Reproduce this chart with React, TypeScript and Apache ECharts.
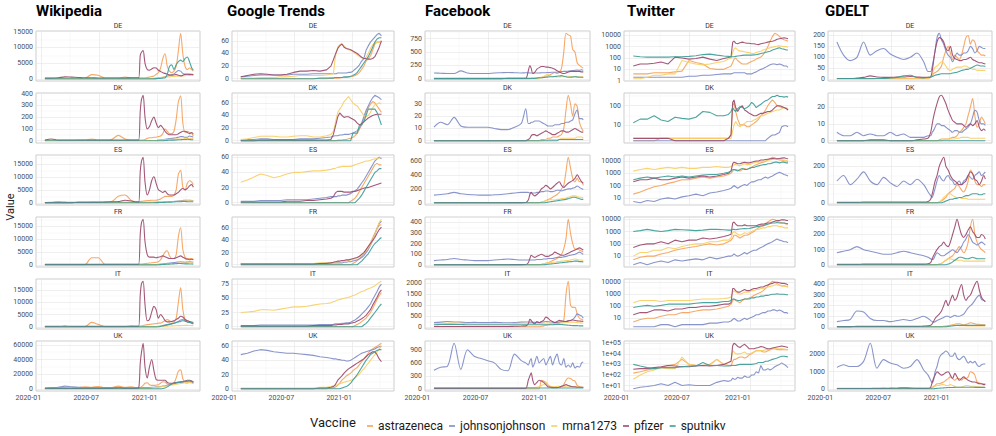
import React, { useEffect, useRef } from "react";
import * as echarts from "echarts";

// ---------- data ----------
const DATES = [
  "2020-01-13","2020-02-03","2020-02-24","2020-03-16","2020-04-06","2020-04-27","2020-05-18","2020-06-08","2020-06-29","2020-07-20",
  "2020-08-10","2020-08-31","2020-09-21","2020-10-12","2020-10-26","2020-11-03","2020-11-08","2020-11-12","2020-11-17","2020-11-23",
  "2020-11-30","2020-12-07","2020-12-14","2020-12-21","2020-12-28","2021-01-04","2021-01-11","2021-01-18","2021-01-25","2021-02-01",
  "2021-02-08","2021-02-15","2021-02-22","2021-03-01","2021-03-08","2021-03-15","2021-03-22","2021-03-29","2021-04-05","2021-04-12",
  "2021-04-19","2021-04-24",
];
const VACCINES = ["astrazeneca", "johnsonjohnson", "mrna1273", "pfizer", "sputnikv"];
const COLORS = ["#F5A25C", "#7F8CC6", "#F8CF66", "#9B4A6E", "#3E9D97"];
const COUNTRIES = ["DE", "DK", "ES", "FR", "IT", "UK"];
const SOURCES = ["Wikipedia", "Google Trends", "Facebook", "Twitter", "GDELT"];
const X_TICK_DATES = ["2020-01-01", "2020-07-01", "2021-01-01"];
const X_TICK_LABELS = ["2020-01", "2020-07", "2021-01"];
const X_MINOR_DATES = ["2020-04-01", "2020-10-01", "2021-04-01"];

// each panel: [astrazeneca, johnsonjohnson, mrna1273, pfizer, sputnikv]
const WIKI_DE = [
  [200,200,200,200,200,200,250,1400,1200,300, 300,300,600,300,300,400,400,400,400,400, 500,600,800,1000,1500,2000,3500,6500,8000,4000, 2500,2000,2500,4000,9000,14500,8000,4000,3000,3500, 3000,2500],
  [100,100,100,100,100,100,100,100,100,100, 100,100,100,100,100,100,100,100,100,100, 100,100,100,100,100,200,300,500,700,900, 1200,1400,1600,2200,2700,2500,1800,1500,1400,1600, 1400,1300],
  [150,150,150,150,150,150,150,150,150,150, 150,150,150,150,150,150,150,150,150,150, 150,150,200,300,400,500,500,600,600,700, 700,800,800,900,900,1000,1000,1100,1200,1200, 1200,1200],
  [300,300,400,700,600,500,400,400,350,350, 350,350,350,400,400,400,7500,8500,9000,5000, 3000,2800,3200,3600,3500,2800,2400,2000,1800,1500, 1300,1200,1300,1400,1200,1000,1200,1500,1600,1400, 1500,1400],
  [100,100,100,100,100,100,100,100,100,100, 100,100,100,100,100,100,100,100,100,100, 100,100,100,100,150,200,250,300,350,1500, 4000,4500,3000,4500,5500,6000,5500,6500,7000,5500, 3500,2800],
];
const WIKI_DK = [
  [3,3,3,3,3,5,5,15,5,5, 10,45,15,5,5,5,5,5,5,10, 20,25,25,30,30,35,40,60,100,80, 60,60,80,180,330,380,150,70,80,70, 60,40],
  [2,2,2,2,2,2,2,2,2,2, 2,2,2,2,2,2,2,2,2,2, 2,2,2,2,2,5,8,10,12,15, 18,20,22,25,30,35,35,30,30,40, 35,30],
  [2,2,2,2,2,2,2,2,2,2, 2,2,2,2,2,2,2,2,2,2, 2,2,2,2,2,5,6,8,10,10, 12,12,12,15,15,15,15,18,18,20, 20,15],
  [5,15,5,5,5,5,5,5,5,5, 5,5,5,5,5,5,250,350,385,200, 100,120,170,200,150,110,130,110,80,60, 50,50,50,50,60,70,80,80,70,60, 70,55],
  [0,0,0,0,0,0,0,0,0,0, 0,0,0,0,0,0,0,0,0,0, 0,0,0,0,0,0,0,0,2,3, 4,5,5,6,8,8,10,10,12,10, 8,8],
];
const WIKI_ES = [
  [100,100,100,100,100,200,200,300,300,300, 500,2500,3000,800,500,500,500,600,700,800, 900,900,1000,1000,1000,1200,1500,2000,2500,2500, 2500,2500,3000,5000,11000,12500,6000,5000,7500,8500, 8000,7000],
  [100,200,400,300,200,200,200,200,200,200, 200,200,200,200,200,200,200,200,200,200, 200,200,250,250,250,300,300,350,400,400, 450,500,550,600,700,800,900,1000,1000,1000, 900,900],
  [100,100,100,100,100,100,100,100,100,100, 100,100,100,100,100,100,100,100,100,100, 100,100,150,200,250,300,300,350,400,400, 450,500,500,550,600,650,700,700,750,800, 800,800],
  [100,100,100,100,100,200,200,200,200,300, 400,500,1000,700,300,300,12000,16000,17500,8000, 3000,5000,8500,10000,7500,5000,4500,4000,4500,3500, 3000,3000,3000,3500,4000,5000,5500,5000,5500,6500, 7000,6000],
  [50,50,50,50,50,50,50,50,50,50, 50,50,50,50,50,50,50,50,50,50, 50,50,50,50,100,100,150,150,200,250, 300,300,350,400,400,450,500,500,450,450, 400,400],
];
const WIKI_FR = [
  [100,100,100,100,100,100,100,2800,2800,200, 200,200,200,200,200,300,300,300,400,500, 600,700,800,900,1000,1200,2000,3500,5000,5500, 3500,2500,2500,4000,11000,14500,6000,3000,2500,2500, 2500,2000],
  [100,100,100,100,100,100,100,100,100,100, 100,100,100,100,100,100,100,100,100,100, 100,100,100,100,100,200,300,400,500,600, 700,800,900,1000,1100,1200,1100,1000,1100,1200, 1100,1000],
  [80,80,80,80,80,80,80,80,80,80, 80,80,80,80,80,80,80,80,80,80, 80,80,80,80,80,150,200,250,300,350, 400,450,500,550,600,650,700,700,750,800, 750,700],
  [200,200,200,200,200,200,200,200,200,200, 200,200,200,200,200,200,12000,16500,17800,9000, 4000,3000,3000,3000,2800,3000,3200,3500,3200,2800, 2500,2500,2500,2800,3200,3500,3000,2500,2200,2000, 2200,2000],
  [50,50,50,50,50,50,50,50,50,50, 50,50,50,50,50,50,50,50,50,50, 50,50,50,50,50,50,100,150,200,250, 300,350,400,450,500,500,450,400,400,350, 350,300],
];
const WIKI_IT = [
  [100,100,100,100,100,100,100,1800,1000,100, 100,100,100,400,300,300,300,400,500,700, 900,1000,1100,1200,1300,1500,1500,2000,2500,3000, 2500,2000,2000,3500,10000,16000,7000,3000,2500,2000, 1500,1300],
  [100,100,100,100,100,100,100,100,100,100, 100,100,100,100,100,100,100,100,100,100, 100,100,100,100,100,200,300,500,700,900, 1100,1300,1500,1800,2200,2800,3000,2500,2000,1800, 1500,1200],
  [100,100,100,100,100,100,100,100,100,100, 100,100,100,100,100,100,100,100,100,100, 100,100,100,100,100,150,200,250,300,300, 350,400,400,450,500,500,550,600,600,550, 500,500],
  [200,200,200,300,200,200,200,200,200,200, 200,200,200,200,200,200,13000,17500,18500,9000, 2500,3000,6000,8300,7000,3500,5000,4000,2500,2000, 2000,2200,2500,3000,3500,4300,4000,3000,2500,2200, 2000,1800],
  [50,50,50,50,50,50,50,50,50,50, 50,50,50,50,50,50,50,50,50,50, 50,50,50,50,50,50,200,400,600,800, 1000,1200,1500,1800,2000,2200,2500,2300,2000,1800, 1600,1500],
];
const WIKI_UK = [
  [1000,1500,2000,2000,1500,2000,3000,2500,3500,2000, 2000,4000,2500,3000,2000,2000,2000,3000,5000,8000, 8500,6000,5000,5000,5500,6000,8000,10000,9500,7000, 6000,6000,8000,15000,24000,26000,14000,9000,8000,9000, 8500,7500],
  [1500,2000,2500,4000,3000,2500,2000,2000,2000,2000, 2000,2000,2000,2000,2000,2000,2000,2000,2000,2000, 2000,2000,2500,2500,3000,3000,3500,4000,4500,5000, 6000,7000,7500,8000,8500,9000,9500,10000,10500,11000, 10000,9000],
  [1000,1000,1000,1000,1000,1000,1000,1000,1000,1000, 1000,1000,1000,1000,1000,1000,1000,1000,1000,1000, 1000,1000,1500,2000,2500,3000,3000,3500,4000,4500, 5000,5500,6000,6500,7000,7500,8000,8500,9000,9000, 8500,8000],
  [1000,1000,1000,1000,1000,1000,1000,1000,1000,1000, 1000,1500,1000,1000,1000,1500,35000,50000,62000,30000, 15000,30000,40000,25000,13000,12000,12000,12000,12000,9000, 8000,8000,8500,9000,9500,10000,10000,11000,12000,12000, 11000,9000],
  [500,500,500,500,500,500,500,500,500,500, 500,500,500,500,500,500,500,500,500,500, 500,500,500,500,500,500,500,800,1500,3000, 5000,7000,8000,8500,9000,9500,10000,10500,11000,11000, 10500,10000],
];

const GT_DE = [
  [0,0,0,0,0,0,0,0,0,0, 0,0,0,0,1,1,1,1,1,1, 2,2,2,3,3,4,5,7,10,15, 20,28,32,36,45,55,58,58,60],
  [3,4,5,6,6,6,6,6,7,7, 7,8,8,8,8,8,8,8,9,9, 9,9,9,10,10,12,15,18,22,28, 32,45,52,58,62,66,70,72,68],
  [1,1,1,2,2,2,3,3,4,5, 5,5,5,6,7,8,30,42,50,54, 55,52,48,46,45,43,40,38,35,33, 32,34,40,48,54,57,58,58,58],
  [3,5,7,8,7,6,6,7,10,12, 12,13,12,14,20,30,37,42,48,52, 55,50,48,47,46,44,42,40,37,34, 32,32,31,31,32,35,42,50,60],
  [0,0,0,0,0,0,0,0,0,0, 0,0,1,1,1,1,2,2,2,2, 2,3,3,3,4,5,7,10,15,20, 25,30,35,42,50,58,63,65,65],
];
const GT_DK = [
  [0,0,0,0,0,0,0,0,0,0, 0,0,0,0,0,0,0,0,1,1, 1,2,2,3,4,5,8,12,18,25, 35,45,52,58,62,60,55,50,45],
  [1,2,2,3,3,2,2,2,2,3, 3,3,4,5,6,7,8,8,8,9, 9,10,10,10,11,12,14,16,20,28, 38,48,55,62,68,72,70,68,65],
  [2,3,5,7,7,7,6,6,7,8, 8,6,6,8,10,15,25,35,45,50, 55,62,66,70,65,60,57,55,50,45, 40,38,40,45,52,57,58,60,58],
  [0,0,0,1,1,1,1,1,1,1, 1,1,1,1,2,10,20,28,38,44, 40,37,38,38,36,34,32,28,25,27, 30,33,36,38,40,41,42,42,42],
  [0,0,0,0,0,0,0,0,0,0, 0,0,0,0,0,0,0,0,0,0, 0,0,0,0,0,12,12,12,25,25, 30,40,50,50,50,50,45,35,25],
];
const GT_ES = [
  [0,0,0,0,0,0,0,0,0,0, 0,0,0,0,0,0,0,0,0,0, 0,0,0,0,2,4,6,10,15,20, 25,30,35,40,45,50,52,50,50],
  [2,2,2,3,3,3,3,4,4,4, 4,5,6,7,8,8,8,8,9,9, 10,10,10,11,12,14,16,18,22,26, 30,35,40,45,50,55,58,60,58],
  [27,30,34,38,36,33,35,38,40,40, 41,42,42,43,44,45,45,46,47,47, 48,48,48,48,48,49,50,51,52,53, 54,55,55,56,57,58,58,59,60],
  [1,1,1,1,1,1,1,2,2,2, 3,3,4,5,6,8,12,14,15,15, 15,14,14,14,14,15,15,16,17,18, 19,20,20,21,22,23,24,25,26],
  [0,0,0,0,0,0,0,0,0,0, 0,0,0,0,0,0,0,0,0,0, 0,0,0,0,0,0,0,3,6,10, 15,20,25,30,35,40,42,45,45],
];
const GT_FR = [
  [0,0,0,0,0,0,0,0,0,0, 0,0,0,0,0,0,0,0,0,0, 0,0,0,0,0,2,4,7,10,14, 18,24,30,36,44,52,60,65,66],
  [2,2,2,2,2,2,2,2,2,2, 2,2,2,3,3,3,3,3,3,3, 3,4,4,5,5,6,7,8,10,12, 15,20,25,32,40,50,60,68,72],
  [2,2,2,2,2,2,2,2,2,2, 2,2,3,3,3,4,4,4,5,5, 5,6,6,7,8,9,10,12,14,17, 20,24,28,33,40,50,60,70,75],
  [1,1,1,1,1,1,1,1,1,1, 1,1,2,2,3,4,5,5,6,6, 7,7,8,8,9,10,11,12,14,17, 20,25,30,35,40,45,52,58,62],
  [0,0,0,0,0,0,0,0,0,0, 0,0,0,0,0,0,0,0,0,0, 0,0,0,0,0,0,0,0,3,6, 10,14,18,24,30,35,38,42,45],
];
const GT_IT = [
  [0,0,0,0,0,0,0,0,0,0, 0,0,0,0,0,0,0,0,0,0, 0,0,0,0,0,0,2,4,6,9, 12,15,20,25,32,40,48,55,60],
  [2,2,2,3,3,3,3,3,3,3, 3,3,4,4,4,4,5,5,5,5, 6,6,7,7,8,10,12,15,18,22, 26,30,35,40,48,55,62,70,75],
  [25,26,27,30,30,29,31,33,35,35, 36,38,40,41,42,44,45,46,47,48, 49,50,51,52,53,55,56,58,60,62, 63,65,67,68,70,72,75,78,80],
  [1,1,1,1,1,1,1,1,1,1, 1,2,2,2,2,3,3,3,4,4, 4,5,5,5,6,7,8,10,12,14, 17,20,25,30,38,45,52,60,65],
  [0,0,0,0,0,0,0,0,0,0, 0,0,0,0,0,0,0,0,0,0, 0,0,0,0,0,0,0,0,0,0, 3,6,10,15,20,25,30,36,40],
];
const GT_UK = [
  [0,0,0,0,0,0,0,0,0,0, 0,0,0,0,1,1,2,3,5,8, 12,15,18,20,22,25,28,30,34,38, 42,46,50,54,56,58,60,62,64],
  [48,50,53,55,54,52,51,50,50,49, 48,47,45,44,43,42,42,42,41,41, 40,40,39,39,40,42,44,46,48,50, 51,52,53,54,55,56,58,59,60],
  [1,1,1,1,1,1,1,1,1,1, 1,1,2,2,3,4,5,5,6,7, 8,9,10,11,12,13,15,18,21,25, 28,32,36,40,44,48,52,56,60],
  [0,0,0,0,0,0,0,0,0,0, 0,0,1,1,2,3,5,8,12,15, 18,22,25,28,30,32,34,36,38,40, 42,45,48,50,52,52,48,42,38],
  [0,0,0,0,0,0,0,0,0,0, 0,0,0,0,0,0,0,0,0,0, 1,2,3,5,8,12,16,20,25,30, 35,40,44,48,50,52,54,55,55],
];

const FB_DE = [
  [3,3,3,3,3,3,3,3,3,3, 5,5,5,5,5,5,5,10,10,15, 20,25,30,40,50,60,80,100,120,100, 120,200,500,850,820,800,550,500,300,250, 220,200],
  [110,105,100,100,150,110,100,100,100,110, 115,120,115,110,115,115,110,110,110,110, 110,110,115,115,115,120,120,125,125,125, 130,135,140,140,145,150,155,160,165,160, 170,160],
  [3,3,3,3,3,3,3,3,3,3, 3,3,3,3,3,3,3,3,3,3, 5,10,20,40,70,90,60,40,40,35, 35,40,40,50,50,45,40,40,40,40, 40,40],
  [5,5,5,5,5,5,5,5,5,5, 5,10,10,10,10,150,250,200,100,120, 180,210,230,230,220,220,210,200,180,150, 130,110,100,110,130,140,140,140,140,140, 130,130],
  [10,10,10,10,10,10,10,10,10,10, 10,10,10,10,10,10,10,10,10,10, 15,20,20,25,30,35,40,40,45,50, 55,60,50,40,30,30,35,40,35,30, 30,25],
];
const FB_DK = [
  [0,0,0,0,0,0,0,0,0,0, 0,0,0,0,0,0,0,0,0,0, 0,0,1,1,1,2,2,3,3,3, 4,5,10,25,37,30,20,30,28,15, 10,8],
  [11,15,13,19,12,11,11,11,11,10, 9,9,11,14,26,14,14,15,15,16, 16,16,15,14,13,12,12,12,13,13, 13,14,14,15,15,16,17,22,25,18, 18,17],
  [0,0,0,0,0,0,0,0,0,0, 0,0,0,0,0,0,0,0,0,0, 0,0,0,0,1,1,1,1,1,1, 1,2,2,2,2,2,2,2,3,3, 3,2],
  [0,0,0,0,0,0,0,0,0,0, 0,0,0,0,0,1,2,4,5,5, 4,5,6,7,8,7,6,5,5,6, 7,8,8,7,7,8,9,10,9,8, 7,7],
  [0,0,0,0,0,0,0,0,0,0, 0,0,0,0,0,0,0,0,0,0, 0,0,0,0,0,0,0,0,0,0, 1,1,1,1,1,1,1,1,1,1, 1,1],
];
const FB_ES = [
  [2,2,2,2,2,2,2,2,2,2, 2,2,2,2,2,2,2,2,2,2, 2,2,10,20,30,50,60,80,100,120, 150,200,250,450,650,500,350,300,350,300, 300,250],
  [110,120,130,150,130,120,115,110,110,115, 120,130,140,150,150,150,140,140,140,140, 150,150,160,160,170,170,160,160,170,180, 180,170,180,190,200,200,210,220,240,220, 200,190],
  [2,2,2,2,2,2,2,2,2,2, 2,2,2,2,2,2,2,2,2,2, 2,2,10,20,30,40,50,40,40,50, 50,60,60,70,80,90,100,100,90,80, 80,70],
  [2,2,2,2,2,2,2,2,2,2, 2,3,3,3,5,40,120,150,120,100, 120,150,200,220,250,230,200,220,250,280, 300,250,220,250,280,300,320,350,400,350, 300,280],
  [2,2,2,2,2,2,2,2,2,2, 2,2,2,2,2,2,2,2,2,2, 2,2,2,2,5,10,15,20,25,30, 35,40,45,50,60,70,80,80,70,60, 50,50],
];
const FB_FR = [
  [1,1,1,1,1,1,1,1,1,1, 1,1,1,1,1,1,1,1,1,1, 1,1,5,10,15,20,30,40,50,60, 80,100,150,250,430,300,200,150,150,140, 130,120],
  [40,45,50,60,50,45,40,40,40,45, 50,55,50,45,45,45,45,45,45,45, 50,50,50,55,55,60,60,60,65,70, 70,70,75,80,85,90,95,100,110,120, 110,100],
  [1,1,1,1,1,1,1,1,1,1, 1,1,1,1,1,1,1,1,1,1, 1,1,5,10,15,20,20,25,25,30, 30,35,35,40,40,45,50,55,50,45, 45,40],
  [1,1,1,1,1,1,1,1,1,1, 1,1,2,2,3,20,60,90,80,70, 80,90,100,90,80,80,90,100,120,110, 100,90,90,100,110,120,130,140,150,160, 150,140],
  [1,1,1,1,1,1,1,1,1,1, 1,1,1,1,1,1,1,1,1,1, 1,1,1,1,3,5,8,10,12,15, 18,20,22,25,28,30,32,35,35,30, 30,28],
];
const FB_IT = [
  [10,10,10,10,10,10,10,10,10,10, 10,10,10,10,10,10,10,10,10,10, 10,10,30,50,80,100,120,150,180,200, 220,250,300,1500,2100,1000,900,900,600,400, 350,300],
  [200,220,250,230,220,200,210,200,200,210, 200,190,200,220,230,230,220,220,210,210, 200,200,220,230,250,240,230,220,210,210, 220,230,240,250,280,300,350,450,600,550, 500,400],
  [150,160,170,180,170,160,150,150,150,150, 150,150,160,170,170,170,160,160,150,150, 150,150,160,170,180,180,170,160,160,160, 170,180,190,200,210,220,220,210,200,190, 180,170],
  [20,20,20,20,20,20,20,20,20,20, 20,20,30,40,50,150,350,300,200,150, 250,200,250,300,450,400,300,250,200,250, 300,280,260,250,280,300,320,300,280,270, 260,250],
  [100,110,120,120,110,100,100,100,100,100, 100,100,100,100,100,100,100,100,100,100, 100,100,100,100,100,100,100,100,110,120, 120,110,100,90,80,70,60,60,60,50, 50,50],
];
const FB_UK = [
  [5,5,5,5,5,5,5,5,5,5, 5,5,5,5,5,5,5,5,5,5, 5,5,200,180,150,80,50,50,40,40, 50,60,100,200,250,240,200,180,80,50, 40,30],
  [430,500,520,1050,450,900,750,700,650,600, 450,420,800,650,600,550,650,700,500,600, 750,600,650,700,550,650,750,550,700,800, 600,550,700,500,550,500,600,480,520,500, 600,620],
  [30,30,30,30,30,30,30,30,30,30, 30,30,30,30,30,30,30,30,30,30, 40,50,80,100,150,100,60,50,50,60, 60,50,50,60,70,60,50,50,50,40, 40,40],
  [10,10,10,10,10,10,10,10,10,10, 10,10,10,10,10,200,300,370,200,100, 150,200,180,150,100,50,40,30,30,30, 40,60,80,100,80,60,50,50,40,40, 40,40],
  [20,20,20,20,20,20,20,20,20,20, 20,20,20,20,20,20,20,20,20,20, 20,20,20,20,20,20,20,20,20,20, 20,20,20,20,20,20,20,20,20,20, 20,20],
];

const TW_DE = [
  [4,4,4,5,5,5,6,7,60,40, 30,12,10,10,15,20,40,80,100,60, 40,30,30,30,40,50,60,80,100,120, 200,400,1000,3000,8000,15000,12000,8000,5000,4000, 3500,3000],
  [2,2,2,2,2,2,2,2,2.5,2.5, 3,3,3.5,4,4,4,4.5,5,5,5, 5,5,5,4,4,4,5,6,8,10, 12,15,20,25,30,30,25,30,25,20, 20,15],
  [1.5,1.5,2,3,3,4,4,60,40,30, 25,30,40,50,80,100,300,600,800,500, 400,400,350,300,300,250,250,300,350,400, 500,600,700,800,900,1000,1100,1200,1100,1000, 1000,900],
  [20,30,30,35,45,30,120,100,80,90, 120,80,60,90,110,130,2500,3000,2000,1800, 2200,2500,2200,2000,2000,1800,1800,1600,1500,1800, 2000,2200,2500,2800,3000,3500,4500,5000,5500,6000, 5500,5000],
  [150,130,120,120,120,120,130,130,140,160, 200,220,180,150,140,130,130,130,140,150, 160,170,180,180,180,180,190,200,220,250, 280,300,350,400,500,600,700,800,650,600, 500,500],
];
const TW_DK = [
  [1.5,1.5,1.5,1.5,2,2,2,2,2,2, 2,2,2,2,2,3,100,150,50,20, 10,10,10,8,8,10,12,15,20,30, 40,60,100,150,200,150,100,90,80,80, 70,60],
  [1.5,1.5,1.5,1.5,1.5,1.5,1.5,1.5,1.5,1.5, 1.5,1.5,1.5,1.5,1.5,1.5,1.5,1.5,1.5,1.5, 1.5,1.5,1.5,1.5,1.5,1.5,1.5,1.5,1.5,1.5, 1.5,1.5,2,2.5,3,3,3.5,4,8,9, 9,8],
  [2,2,2,2,2,2,2,2,2,2, 2,2,2,2,2,2,5,10,15,10, 8,10,12,15,15,15,18,20,25,30, 30,35,40,45,50,55,60,60,70,80, 80,70],
  [2,2,2,2,2,2,1.5,1.5,1.5,1.5, 1.5,1.5,1.5,1.5,2,3,150,200,80,50, 80,100,60,50,40,35,30,30,35,40, 40,45,50,50,60,80,100,100,90,80, 70,60],
  [13,20,20,30,18,15,25,22,20,25, 50,45,30,30,35,50,80,60,50,70, 90,80,70,80,100,150,120,80,100,120, 150,180,200,250,300,300,350,300,300,280, 300,280],
];
const TW_ES = [
  [20,30,50,80,100,150,200,300,300,400, 500,400,500,600,800,1000,1500,2000,2000,1800, 1500,2000,2500,2000,2500,3000,4000,5000,6000,7000, 8000,9000,12000,15000,20000,18000,14000,12000,12000,10000, 10000,9000],
  [5,4,6,5,8,10,8,12,15,20, 15,25,30,40,50,60,80,100,80,60, 80,100,120,100,150,200,200,250,300,300, 400,500,400,500,600,800,1000,1200,1000,800, 700,600],
  [1500,2000,2500,2000,2500,3000,2500,3000,2500,2500, 3000,3000,3500,3000,3000,3500,4000,5000,5000,4500, 4000,5000,6000,5000,5000,6000,7000,8000,8000,9000, 10000,10000,12000,12000,15000,15000,14000,13000,12000,12000, 11000,10000],
  [200,300,300,400,300,300,400,500,400,500, 600,500,600,800,1000,1500,6000,8000,7000,6000, 6000,7000,8000,7000,7000,8000,9000,10000,10000,12000, 12000,13000,14000,15000,16000,15000,15000,16000,17000,18000, 16000,15000],
  [300,400,500,400,500,600,500,600,500,600, 700,800,800,1000,1200,1500,2000,2000,1800,1500, 2000,2500,2000,2000,2500,3000,3000,3500,4000,4500, 5000,5000,6000,6000,7000,8000,8000,7000,8000,8000, 7000,7000],
];
const TW_FR = [
  [5,8,10,10,15,20,30,40,50,60, 80,100,80,100,150,200,300,500,500,400, 300,400,500,500,600,800,1000,1500,2000,2500, 3000,4000,6000,8000,10000,9000,7000,6000,5000,5000, 4000,4000],
  [2,3,2,3,4,3,5,4,5,6, 5,8,6,8,10,10,12,15,12,10, 12,15,20,15,20,25,30,30,40,50, 60,80,100,120,150,200,250,200,180,150, 150,120],
  [10,20,20,30,30,50,40,60,80,100, 100,150,150,200,200,300,800,1000,800,600, 500,600,800,700,800,1000,1200,1500,1500,1800, 2000,2000,2500,2500,3000,3000,3000,2500,2500,2000, 2000,2000],
  [50,80,100,100,150,100,200,150,200,200, 300,250,300,400,500,600,5000,6000,4000,3000, 3000,3000,3500,3000,3000,3000,3000,3000,3500,4000, 4000,4500,5000,5000,6000,7000,8000,8000,9000,9000, 8000,8000],
  [1000,1200,1500,1200,1000,1200,1500,1400,1300,1200, 1300,1500,1500,1400,1300,1300,1500,1500,1400,1500, 1600,1700,1800,1700,1800,2000,2200,2500,2500,3000, 3000,3500,4000,4500,5000,5000,5500,5000,5000,5000, 4500,4500],
];
const TW_IT = [
  [5,8,10,10,15,20,20,30,30,40, 50,50,60,80,100,150,300,400,300,250, 200,300,400,400,500,600,800,1000,1200,1500, 2000,3000,5000,8000,12000,10000,8000,6000,5000,5000, 4500,4000],
  [2,2,2,2,3,3,2,3,3,3, 3,4,4,5,5,6,8,10,8,6, 6,8,10,8,10,12,15,20,20,25, 30,30,40,40,50,50,40,50,40,30, 30,25],
  [200,300,300,300,250,300,300,300,300,350, 400,400,400,450,500,600,1500,2000,1500,1200, 1000,1200,1500,1500,1500,2000,2000,2500,2500,3000, 3000,3500,4000,4500,5000,6000,6000,5500,5000,5000, 4500,4000],
  [20,30,30,50,50,40,60,60,80,80, 100,100,120,150,150,200,3000,3000,2000,1500, 1500,2000,2500,2000,2000,2500,3000,3000,3500,4000, 4000,5000,6000,7000,8000,10000,10000,9000,8000,8000, 7000,6000],
  [80,100,120,100,120,150,150,150,150,180, 200,200,200,250,250,300,400,400,350,300, 300,350,400,400,400,500,500,600,600,700, 700,800,800,900,1000,1000,1100,1000,1000,1000, 900,900],
];
const TW_UK = [
  [150,200,300,400,500,800,1000,3000,1000,800, 800,1000,3000,1000,800,700,2000,3000,3000,4000, 5000,5000,4000,5000,8000,10000,15000,20000,20000,20000, 15000,15000,20000,25000,30000,30000,25000,25000,25000,25000, 25000,25000],
  [5,7,8,10,15,10,20,10,12,10, 10,10,20,30,25,30,50,40,40,60, 50,50,80,60,60,100,100,200,150,800, 300,300,400,300,400,600,800,1000,1400,1000, 700,500],
  [40,100,200,300,500,400,400,5000,1000,800, 800,800,3000,1000,1500,2000,20000,15000,10000,10000, 10000,12000,15000,10000,10000,12000,15000,20000,20000,20000, 20000,25000,25000,25000,30000,30000,30000,30000,30000,28000, 25000,25000],
  [350,400,400,500,600,800,700,600,600,700, 800,700,800,1000,1500,2000,60000,100000,80000,50000, 40000,60000,80000,50000,30000,30000,30000,35000,40000,50000, 45000,35000,30000,30000,35000,40000,45000,50000,55000,50000, 45000,40000],
  [1000,700,500,400,500,500,500,600,700,700, 1500,800,800,700,700,800,800,800,800,900, 1000,1000,1000,1000,1000,1000,1100,1200,1500,1500, 1500,2000,2000,2500,3000,3500,4000,5000,6000,6000, 5500,5000],
];

const GD_DE = [
  [2,2,2,2,2,2,3,3,3,3, 3,3,3,3,4,8,15,25,30,35, 45,60,100,130,150,120,90,110,100,90, 110,150,190,200,160,180,170,130,120,110, 110,105],
  [170,110,85,100,170,110,130,140,115,100, 90,100,120,80,35,35,60,90,130,190, 210,180,160,130,110,100,80,100,120,110, 110,120,120,130,150,140,120,130,150,145, 140,140],
  [2,2,2,2,2,2,2,2,2,2, 2,2,2,2,2,10,20,40,55,60, 70,80,75,60,45,40,45,50,55,55, 55,60,60,55,50,45,45,40,40,40, 40,40],
  [3,3,3,5,8,15,10,8,8,10, 10,12,10,8,8,10,40,80,130,170, 190,185,170,140,130,150,110,95,90,85, 85,90,90,95,100,90,85,80,75,75, 72,70],
  [3,3,3,3,3,3,3,3,5,8, 15,18,8,6,8,10,12,15,18,20, 22,25,25,25,25,25,28,30,32,35, 40,42,45,45,50,55,60,65,62,60, 60,58],
];
const GD_DK = [
  [0,0,0,0,0,0,0,0,0,0, 0,0,0,0,0,0,0,0,0,0, 0.5,1,1,1,1,1.5,2,2,3,5, 6,8,10,15,20,25,15,8,10,14, 12,10],
  [5,3,3,5,3,4,3,3,5,3, 4,2,2,2,3,3,5,6,8,10, 10,9,9,8,7,6,5,6,6,5, 5,6,7,8,10,14,18,17,12,10, 10,9],
  [0,0,0,0,0,0,0,0,0,0, 0,0,0,0,0,0,0,0,0,0, 0,0,0.5,1,1,1,1,1,1.5,1.5, 2,2,2,2,1.5,1.5,1.5,1.5,1.5,1.5, 1.5,1.5],
  [0,0,0,0,0,0.5,0.5,0.5,0,0, 0,0,0.5,1,1.5,5,10,14,18,22, 26,27,25,22,18,15,12,11,10,10, 10,9,8,9,10,9,10,12,8,6, 7,6],
  [0,0,0,0,0,0,0,0,0,0, 0,0,0,0,0,0,0,0,0,0, 0,0,0,0,0,0,0,0,0,0, 0,0,0,0,0,0,0,0,0,0, 0,0],
];
const GD_ES = [
  [1,1,1,1,1,1,1,1,1,1, 1,1,1,1,1,1,1,1,1,1, 5,10,20,30,50,60,70,80,100,90, 70,60,80,120,180,160,120,100,100,90, 100,100],
  [120,150,100,130,170,120,100,140,110,90, 120,100,130,100,60,40,30,50,80,120, 150,130,120,140,150,130,120,100,110,120, 100,120,130,150,140,130,150,160,170,150, 160,170],
  [1,1,1,1,1,1,1,1,1,1, 1,1,1,1,1,1,1,1,1,1, 5,15,30,40,50,50,40,35,30,30, 25,25,25,20,20,20,20,20,20,20, 20,20],
  [3,3,3,3,5,5,5,5,5,5, 5,5,5,5,8,20,50,80,120,150, 200,230,250,200,180,150,130,120,110,100, 100,110,120,150,170,160,130,120,100,120, 150,130],
  [1,1,1,1,1,1,1,1,1,1, 1,1,1,1,1,1,1,1,1,1, 1,1,5,10,15,20,20,25,25,30, 30,35,40,40,45,50,50,50,45,45, 50,50],
];
const GD_FR = [
  [1,1,1,1,1,1,1,1,1,1, 1,1,1,1,1,1,1,1,1,1, 5,10,20,30,40,50,60,80,100,120, 100,80,100,150,250,300,200,150,120,100, 90,80],
  [80,90,100,120,100,90,80,70,70,80, 90,80,70,60,50,40,35,40,60,80, 70,60,60,70,80,90,100,90,80,100, 120,150,170,200,180,150,140,130,140,150, 140,130],
  [1,1,1,1,1,1,1,1,1,1, 1,1,1,1,1,1,1,1,1,1, 5,10,20,30,40,40,35,30,30,30, 30,25,25,25,25,25,25,25,25,25, 25,25],
  [3,3,3,3,5,5,5,5,5,5, 5,5,5,5,8,15,40,60,80,100, 120,130,150,130,120,150,200,250,300,250, 200,180,200,230,250,220,200,180,180,200, 190,170],
  [1,1,1,1,1,1,1,1,1,1, 1,1,1,1,1,1,1,1,1,1, 1,1,1,1,5,10,20,30,40,50, 50,45,40,40,45,50,45,40,40,40, 40,40],
];
const GD_IT = [
  [2,2,2,2,2,2,2,2,2,2, 2,2,2,2,2,2,2,2,2,2, 2,2,5,8,10,15,20,25,30,30, 25,20,25,30,40,35,30,25,25,20, 20,20],
  [50,60,70,150,140,80,60,60,50,60, 70,60,80,100,80,60,50,45,50,60, 70,80,90,100,100,90,100,110,100,100, 110,120,150,180,200,220,250,280,300,260, 250,240],
  [2,2,2,2,2,2,2,2,2,2, 2,2,2,2,2,2,2,2,2,2, 2,2,5,8,10,12,15,15,15,12, 12,12,10,10,10,10,10,10,10,10, 10,10],
  [3,3,3,5,5,5,5,5,5,5, 5,5,5,8,10,15,30,50,80,100, 120,150,200,250,200,250,300,250,280,350, 400,300,250,280,300,350,400,430,350,280, 250,240],
  [2,2,2,2,2,2,2,2,2,2, 2,2,2,2,2,2,2,2,2,2, 2,2,2,2,5,8,10,12,15,15, 15,15,15,15,15,15,15,15,15,15, 15,15],
];
const GD_UK = [
  [30,30,40,30,30,40,50,60,50,40, 80,60,40,40,40,50,80,150,200,300, 300,350,400,500,600,700,600,500,600,600, 500,600,600,700,1000,950,800,400,350,300, 300,300],
  [1250,1400,1300,1300,1600,2650,1200,1700,1500,1400, 1200,1300,1700,1100,800,500,350,500,1000,1300, 1800,2000,2100,2200,2100,1900,1900,2100,1800,1700, 1800,1900,1700,1500,1600,1500,1600,1400,1300,1400, 1450,1450],
  [20,20,20,20,20,20,20,20,20,20, 20,20,20,20,20,20,50,100,150,200, 200,250,250,200,200,250,200,150,100,100, 100,150,200,200,150,150,150,120,120,100, 100,100],
  [20,20,20,20,20,20,20,20,30,40, 50,40,30,30,30,100,400,600,800,1000, 900,800,850,950,1000,800,600,900,700,500, 600,700,600,500,450,400,400,350,300,300, 250,250],
  [10,10,10,10,10,10,10,10,10,10, 10,10,10,10,10,10,10,10,20,30, 40,50,60,70,80,80,80,90,100,100, 100,100,100,100,100,100,90,90,90,90, 90,80],
];

// y-axis tick values per panel (rows DE..UK)
const WIKI_TICKS = [[0,5000,10000,15000],[0,100,200,300,400],[0,5000,10000,15000],[0,5000,10000,15000],[0,5000,10000,15000],[0,20000,40000,60000]];
const GT_TICKS = [[0,20,40,60],[0,20,40,60],[0,20,40,60],[0,20,40,60],[0,25,50,75],[0,20,40,60]];
const FB_TICKS = [[0,250,500,750],[0,10,20,30],[0,200,400,600],[0,100,200,300,400],[0,500,1000,1500,2000],[0,300,600,900]];
const TW_TICKS = [[1,10,100,1000,10000],[1,10,100],[1,10,100,1000,10000],[1,10,100,1000,10000],[1,10,100,1000,10000],[10,100,1000,10000,100000]];
const TW_UK_LABELS = ["1e+01","1e+02","1e+03","1e+04","1e+05"];
const GD_TICKS = [[0,50,100,150,200],[0,10,20],[0,100,200],[0,100,200,300],[0,100,200,300,400],[0,1000,2000]];

// ---------- layout / style ----------
const COL_LEFT = [36, 232, 425, 624, 828];
const COL_WIDTH = [164, 162, 165, 171, 164];
const TITLE_X = [36, 227, 425, 627, 825];
const ROW_TOP = [31, 93, 155, 217, 279, 341];
const PANEL_H = 50;
const X_RANGE = [-16, 500];
const LOG_COLUMN = [false, false, false, true, false];
const SMOOTH = [0.3, 0, 0.3, 0, 0.3];
const FONT = "Roboto, 'Noto Sans', sans-serif";
const MAJOR = { color: "#E4E4E4", width: 0.6, type: "solid" };
const MINOR = { color: "#F1F1F1", width: 0.4, type: "solid" };

const PANEL_DATA = [
  [WIKI_DE, WIKI_DK, WIKI_ES, WIKI_FR, WIKI_IT, WIKI_UK],
  [GT_DE, GT_DK, GT_ES, GT_FR, GT_IT, GT_UK],
  [FB_DE, FB_DK, FB_ES, FB_FR, FB_IT, FB_UK],
  [TW_DE, TW_DK, TW_ES, TW_FR, TW_IT, TW_UK],
  [GD_DE, GD_DK, GD_ES, GD_FR, GD_IT, GD_UK],
];
const PANEL_TICKS = [WIKI_TICKS, GT_TICKS, FB_TICKS, TW_TICKS, GD_TICKS];

function dayOf(s: string): number {
  const [y, m, d] = s.split("-").map(Number);
  return (Date.UTC(y, m - 1, d) - Date.UTC(2020, 0, 1)) / 86400000;
}

function buildOption() {
  const X_MAJOR = X_TICK_DATES.map(dayOf);
  const X_MINOR = X_MINOR_DATES.map(dayOf);
  const grid: any[] = [];
  const xAxis: any[] = [];
  const yAxis: any[] = [];
  const series: any[] = [];
  const graphic: any[] = [];

  SOURCES.forEach((src, c) => {
    graphic.push({
      type: "text", x: TITLE_X[c], y: 3, silent: true,
      style: { text: src, font: `bold 15px ${FONT}`, fill: "#000", textAlign: "left", textVerticalAlign: "top", align: "left", verticalAlign: "top" },
    });
    const isLog = LOG_COLUMN[c];
    const tv = (v: number) => (isLog ? Math.log10(v) : v);
    COUNTRIES.forEach((cty, r) => {
      const idx = c * 6 + r;
      const panel = PANEL_DATA[c][r];
      const left = COL_LEFT[c];
      const width = COL_WIDTH[c];
      const top = ROW_TOP[r];
      const all = panel.flat().map(tv);
      const dmin = Math.min(...all);
      const dmax = Math.max(...all);
      const pad = (dmax - dmin) * 0.05;
      const ymin = dmin - pad;
      const ymax = dmax + pad;
      const rawTicks = PANEL_TICKS[c][r];
      const ticks = rawTicks.map((t) => (isLog ? Math.round(Math.log10(t)) : t));
      const labels = c === 3 && r === 5 ? TW_UK_LABELS : rawTicks.map((t) => String(t));
      const step = ticks[1] - ticks[0];
      const minors = [ticks[0] - step / 2, ...ticks.map((t) => t + step / 2)].filter((v) => v > ymin && v < ymax);
      const majorsIn = ticks.filter((v) => v >= ymin && v <= ymax);

      grid.push({ left, top, width, height: PANEL_H, show: true, borderColor: "#CDCDCD", borderWidth: 1, backgroundColor: "transparent", containLabel: false });
      xAxis.push({
        type: "value", gridIndex: idx, min: X_RANGE[0], max: X_RANGE[1],
        axisLine: { show: false }, axisTick: { show: false }, splitLine: { show: false },
        axisLabel: {
          show: r === 5, customValues: X_MAJOR, align: "right", fontSize: 7, color: "#4D4D4D", margin: 3, fontFamily: FONT,
          formatter: (v: number) => { const i = X_MAJOR.findIndex((d) => Math.abs(d - v) < 1e-6); return i >= 0 ? X_TICK_LABELS[i] : ""; },
        },
      });
      yAxis.push({
        type: "value", gridIndex: idx, min: ymin, max: ymax,
        axisLine: { show: false }, axisTick: { show: false }, splitLine: { show: false },
        axisLabel: {
          customValues: majorsIn, fontSize: 7, color: "#4D4D4D", margin: 3, fontFamily: FONT,
          formatter: (v: number) => { const i = ticks.findIndex((t) => Math.abs(t - v) < 1e-6 * Math.max(1, Math.abs(t))); return i >= 0 ? labels[i] : ""; },
        },
      });
      // grid lines
      series.push({
        type: "line", xAxisIndex: idx, yAxisIndex: idx, data: [[X_RANGE[0], ymin]], symbol: "none", showSymbol: false,
        lineStyle: { opacity: 0 }, silent: true, z: 1, animation: false,
        markLine: {
          silent: true, symbol: ["none", "none"], label: { show: false }, animation: false, z: 1,
          lineStyle: { type: "solid" }, emphasis: { disabled: true },
          data: [
            ...X_MINOR.map((d) => ({ xAxis: d, lineStyle: MINOR })),
            ...minors.map((v) => ({ yAxis: v, lineStyle: MINOR })),
            ...X_MAJOR.map((d) => ({ xAxis: d, lineStyle: MAJOR })),
            ...majorsIn.map((v) => ({ yAxis: v, lineStyle: MAJOR })),
          ],
        },
      });
      panel.forEach((vals, k) => {
        series.push({
          type: "line", name: VACCINES[k], xAxisIndex: idx, yAxisIndex: idx,
          data: vals.map((v, i) => [dayOf(DATES[i]), tv(v)]),
          showSymbol: false, symbol: "none", smooth: SMOOTH[c], color: COLORS[k],
          lineStyle: { width: 1.1, color: COLORS[k], opacity: 0.92 },
          emphasis: { disabled: true }, silent: true, z: 3, animation: false,
        });
      });
      graphic.push({
        type: "text", x: left + width / 2, y: top - 5, silent: true,
        style: { text: cty, font: `7px ${FONT}`, fill: "#333", textAlign: "center", textVerticalAlign: "middle", align: "center", verticalAlign: "middle" },
      });
    });
  });

  graphic.push({
    type: "text", x: 10, y: 207, rotation: Math.PI / 2, silent: true,
    style: { text: "Value", font: `11px ${FONT}`, fill: "#222", textAlign: "center", textVerticalAlign: "middle", align: "center", verticalAlign: "middle" },
  });
  graphic.push({
    type: "text", x: 310, y: 422, silent: true,
    style: { text: "Vaccine", font: `13px ${FONT}`, fill: "#1A1A1A", textAlign: "left", textVerticalAlign: "middle", align: "left", verticalAlign: "middle" },
  });

  return {
    animation: false,
    textStyle: { fontFamily: FONT },
    grid, xAxis, yAxis, series, graphic,
    legend: {
      data: VACCINES, left: 362, top: 415, icon: "rect", itemWidth: 6, itemHeight: 1.6, itemGap: 6,
      selectedMode: false, textStyle: { fontSize: 12, color: "#1A1A1A", fontFamily: FONT },
    },
  };
}

export default function App() {
  const ref = useRef<HTMLDivElement>(null);
  useEffect(() => {
    document.body.style.margin = "0";
    const chart = echarts.init(ref.current as HTMLDivElement, undefined, { renderer: "svg" });
    chart.setOption(buildOption() as any);
    return () => chart.dispose();
  }, []);
  return <div ref={ref} style={{ width: 996, height: 436 }} />;
}
